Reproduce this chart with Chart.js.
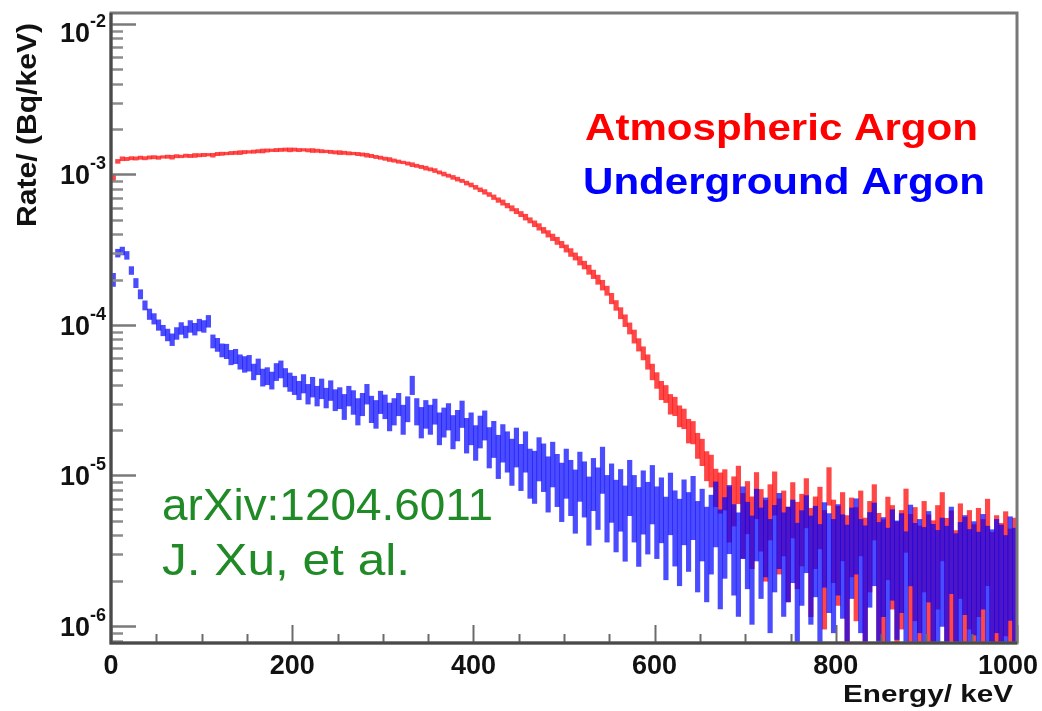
<!DOCTYPE html>
<html>
<head>
<meta charset="utf-8">
<script src="https://cdn.jsdelivr.net/npm/chart.js@4.4.1/dist/chart.umd.min.js"></script>
<style>
  html, body { margin: 0; padding: 0; background: #fff; }
  #wrap { width: 1042px; height: 711px; position: relative; }
</style>
</head>
<body>
<div id="wrap"><canvas id="chart"></canvas></div>
<script>
// Energy spectra, 5 keV bins (bin centres), rates in µBq/keV.
const RATE_UNIT = 1e-6;
const BIN_START = 2.5;
const BIN_WIDTH = 5;

// Atmospheric argon (red)
const atmRate = [
  950, 1220, 1270, 1265, 1280, 1275, 1290, 1280, 1295, 1300,
  1290, 1305, 1310, 1300, 1320, 1315, 1330, 1325, 1335, 1340,
  1345, 1350, 1340, 1365, 1370, 1375, 1385, 1390, 1395, 1405,
  1410, 1415, 1425, 1430, 1440, 1445, 1450, 1455, 1460, 1455,
  1460, 1450, 1455, 1445, 1440, 1435, 1425, 1420, 1410, 1400,
  1395, 1390, 1380, 1375, 1365, 1355, 1340, 1325, 1305, 1290,
  1270, 1255, 1235, 1215, 1200, 1180, 1160, 1140, 1120, 1100,
  1080, 1060, 1030, 1005, 980, 955, 930, 905, 875, 850,
  820, 790, 765, 735, 705, 675, 650, 620, 595, 570,
  545, 520, 495, 470, 448, 425, 403, 382, 362, 342,
  322, 303, 285, 267, 250, 233, 217, 200, 184, 169,
  150, 135, 120, 107, 95, 84, 74, 65, 57, 49,
  43, 37, 35, 30, 29, 25, 24, 20, 19.5, 16,
  14.5, 11.8, 11, 8.6, 8.0,
  8.4, 6.0, 7.2, 9.0, 5.2, 6.6, 4.8, 7.8, 5.6, 4.4,
  6.2, 8.0, 4.6, 5.4, 3.8, 6.4, 4.2, 5.0, 7.0, 3.6,
  4.8, 5.8, 3.4, 8.8, 4.4, 3.8, 5.2, 3.0, 4.6, 3.6,
  5.4, 2.8, 4.2, 6.2, 3.2, 2.6, 4.6, 3.8, 2.4, 3.4,
  5.6, 2.9, 3.6, 2.2, 4.2, 3.0, 2.5, 3.8, 5.2, 2.7,
  3.3, 2.0, 4.0, 2.8, 3.4, 2.3, 3.6, 2.6, 4.4, 1.9,
  3.0, 2.4, 3.3, 2.1, 2.8
];
// relative half-length of each error bar
const atmRelErr = [
  0.05, 0.03, 0.03, 0.025, 0.025, 0.025, 0.025, 0.025, 0.025, 0.025,
  0.025, 0.02, 0.025, 0.03, 0.025, 0.02, 0.025, 0.025, 0.03, 0.025,
  0.025, 0.02, 0.03, 0.025, 0.025, 0.02, 0.025, 0.025, 0.03, 0.025,
  0.02, 0.025, 0.025, 0.03, 0.025, 0.02, 0.025, 0.025, 0.025, 0.03,
  0.025, 0.025, 0.02, 0.025, 0.03, 0.025, 0.025, 0.02, 0.025, 0.025,
  0.03, 0.025, 0.025, 0.02, 0.025, 0.025, 0.03, 0.025, 0.025, 0.025,
  0.025, 0.03, 0.025, 0.025, 0.02, 0.025, 0.03, 0.025, 0.025, 0.03,
  0.025, 0.03, 0.025, 0.03, 0.025, 0.03, 0.03, 0.025, 0.03, 0.03,
  0.03, 0.03, 0.035, 0.03, 0.035, 0.035, 0.04, 0.035, 0.04, 0.04,
  0.04, 0.045, 0.04, 0.045, 0.05, 0.045, 0.05, 0.05, 0.055, 0.05,
  0.055, 0.06, 0.055, 0.065, 0.06, 0.07, 0.065, 0.07, 0.075, 0.07,
  0.08, 0.075, 0.085, 0.09, 0.085, 0.1, 0.095, 0.1, 0.11, 0.12,
  0.12, 0.14, 0.13, 0.15, 0.14, 0.16, 0.15, 0.18, 0.17, 0.19,
  0.2, 0.22, 0.24, 0.28, 0.3,
  0.3, 0.4, 0.36, 0.28, 0.46, 0.38, 0.5, 0.34, 0.44, 0.55,
  0.4, 0.32, 0.52, 0.46, 0.62, 0.4, 0.58, 0.5, 0.36, 0.68,
  0.5, 0.44, 0.72, 0.28, 0.56, 0.64, 0.48, 0.8, 0.54, 0.7,
  0.46, 0.86, 0.6, 0.4, 0.75, 0.95, 0.56, 0.66, 1.05, 0.72,
  0.45, 0.9, 0.7, 1.1, 0.6, 0.82, 1.0, 0.66, 0.48, 0.92,
  0.76, 1.15, 0.62, 0.88, 0.72, 1.05, 0.68, 0.96, 0.58, 1.2,
  0.8, 1.0, 0.74, 1.1, 0.86
];

// Underground argon (blue)
const ugRate = [
  200, 300, 310, 290, 230, 190, 160, 135, 118, 110,
  100, 92, 86, 80, 88, 95, 90, 98, 94, 100,
  98, 106, 78, 74, 68, 67, 61, 62, 57, 55,
  56, 49, 53, 45, 46, 43, 49, 51, 45, 42,
  40, 37, 41, 35, 39, 34, 38, 33, 37, 32,
  33, 29, 34, 31, 27, 30, 35, 28, 26, 31,
  29, 25, 27, 30, 24, 28, 40, 27, 23, 26,
  24, 27, 21, 23, 25, 20, 22, 26, 19, 21,
  17, 20, 22, 16, 18, 14, 17, 15, 13, 16,
  12, 15, 11, 10.5, 13.5, 12, 9.5, 12.5, 10, 8.5,
  11, 9, 7.5, 10.5, 8.8, 6.6, 9.4, 7.8, 11.5, 6.8,
  8.4, 6.2, 7.6, 5.6, 9.0, 6.8, 5.4, 7.4, 6.0, 8.2,
  5.6, 6.6, 4.6, 7.2, 5.2, 4.4, 6.4, 5.0, 6.8, 4.2,
  5.4, 3.8, 4.8, 6.2, 3.6, 4.6, 5.8, 4.0, 3.4, 5.6,
  4.2, 3.2, 5.4, 3.8, 4.6, 3.0, 4.0, 5.0, 3.4, 3.8,
  4.4, 2.8, 3.6, 4.8, 3.2, 3.9, 2.7, 4.2, 3.4, 3.0,
  4.0, 3.3, 2.6, 3.8, 4.6, 3.0, 2.5, 3.5, 4.2, 2.8,
  3.2, 2.4, 3.7, 2.9, 3.4, 2.2, 4.1, 2.7, 3.0, 2.4,
  3.6, 2.6, 2.2, 3.1, 2.5, 3.9, 2.0, 2.8, 3.3, 2.3,
  2.9, 2.1, 3.4, 2.5, 2.2, 3.0, 2.6, 1.9, 3.2, 2.4
];
const ugRelErr = [
  0.1, 0.06, 0.06, 0.06, 0.06, 0.07, 0.07, 0.07, 0.08, 0.08,
  0.08, 0.08, 0.09, 0.09, 0.09, 0.09, 0.09, 0.09, 0.09, 0.09,
  0.09, 0.09, 0.1, 0.1, 0.1, 0.11, 0.11, 0.11, 0.11, 0.12,
  0.12, 0.12, 0.12, 0.13, 0.13, 0.13, 0.13, 0.13, 0.14, 0.14,
  0.14, 0.14, 0.14, 0.15, 0.15, 0.15, 0.15, 0.15, 0.15, 0.16,
  0.16, 0.19, 0.15, 0.18, 0.2, 0.17, 0.15, 0.2, 0.21, 0.17,
  0.18, 0.21, 0.2, 0.17, 0.22, 0.19, 0.14, 0.2, 0.23, 0.21,
  0.22, 0.19, 0.24, 0.22, 0.2, 0.25, 0.23, 0.2, 0.26, 0.24,
  0.26, 0.24, 0.22, 0.3, 0.27, 0.32, 0.28, 0.3, 0.34, 0.29,
  0.34, 0.3, 0.36, 0.38, 0.32, 0.35, 0.4, 0.33, 0.38, 0.42,
  0.36, 0.4, 0.45, 0.36, 0.4, 0.48, 0.38, 0.44, 0.34, 0.47,
  0.42, 0.5, 0.44, 0.52, 0.4, 0.47, 0.54, 0.45, 0.5, 0.42,
  0.5, 0.46, 0.56, 0.44, 0.52, 0.58, 0.46, 0.54, 0.45, 0.6,
  0.5, 0.62, 0.54, 0.46, 0.64, 0.55, 0.48, 0.6, 0.66, 0.5,
  0.58, 0.68, 0.5, 0.6, 0.54, 0.7, 0.58, 0.52, 0.66, 0.62,
  0.56, 0.72, 0.62, 0.53, 0.68, 0.6, 0.75, 0.57, 0.64, 0.7,
  0.6, 0.66, 0.8, 0.6, 0.52, 0.7, 0.85, 0.62, 0.56, 0.74,
  0.64, 0.86, 0.6, 0.72, 0.64, 0.92, 0.55, 0.78, 0.7, 0.88,
  0.6, 0.82, 0.96, 0.68, 0.84, 0.58, 1.05, 0.74, 0.64, 0.9,
  0.7, 1.0, 0.62, 0.84, 0.98, 0.7, 0.8, 1.1, 0.66, 0.86
];

const xTickLabels = [0, 200, 400, 600, 800, 1000];
const yTickExponents = [-6, -5, -4, -3, -2];
const Y_MIN = 7.7e-7;
const Y_MAX = 1.18e-2;

const FONT = '"Liberation Sans", Arial, Helvetica, sans-serif';

function toBars(rates, relErr) {
  return rates.map((r, i) => {
    const v = r * RATE_UNIT;
    const e = v * relErr[i];
    return { x: BIN_START + i * BIN_WIDTH, y: [Math.max(v - e, Y_MIN), v + e] };
  });
}

// draw text squeezed/stretched horizontally to a given width
function fitText(ctx, text, x, y, font, width, color, align) {
  ctx.save();
  ctx.font = font;
  ctx.fillStyle = color;
  ctx.textAlign = 'left';
  ctx.textBaseline = 'alphabetic';
  const w = ctx.measureText(text).width;
  const sx = width ? width / w : 1;
  let left = x;
  if (align === 'right') left = x - w * sx;
  else if (align === 'center') left = x - w * sx / 2;
  ctx.translate(left, y);
  ctx.scale(sx, 1);
  ctx.fillText(text, 0, 0);
  ctx.restore();
}

// ROOT style frame: ticks inside, 10^n labels, titles and legend text
const rootFrame = {
  id: 'rootFrame',
  afterDatasetsDraw(chart) {
    const { ctx, chartArea: a, scales: { x, y } } = chart;
    ctx.save();
    ctx.lineCap = 'butt';

    // x ticks
    ctx.strokeStyle = '#6b6b6b';
    ctx.lineWidth = 2;
    for (let e = 0; e <= 1000; e += 50) {
      const px = Math.round(x.getPixelForValue(e)) + 0.5;
      const len = e % 200 === 0 ? 18 : 9;
      ctx.beginPath();
      ctx.moveTo(px, a.bottom);
      ctx.lineTo(px, a.bottom - len);
      ctx.stroke();
    }

    // y ticks (log)
    for (let d = -7; d <= -2; d++) {
      for (let k = 1; k <= 9; k++) {
        const v = k * Math.pow(10, d);
        if (v < y.min || v > y.max) continue;
        const py = Math.round(y.getPixelForValue(v)) + 0.5;
        ctx.strokeStyle = k === 1 ? '#7a7a7a' : '#8c8c8c';
        ctx.lineWidth = 2.5;
        ctx.beginPath();
        ctx.moveTo(a.left, py);
        ctx.lineTo(a.left + (k === 1 ? 25 : 12), py);
        ctx.stroke();
      }
    }

    // frame
    ctx.strokeStyle = '#777';
    ctx.lineWidth = 3;
    ctx.strokeRect(a.left, a.top, a.right - a.left, a.bottom - a.top);
    ctx.strokeStyle = '#4a4a4a';
    ctx.beginPath();
    ctx.moveTo(a.left, a.top);
    ctx.lineTo(a.left, a.bottom);
    ctx.lineTo(a.right, a.bottom);
    ctx.stroke();
    ctx.restore();

    // x tick labels
    ctx.save();
    ctx.font = 'bold 27px ' + FONT;
    ctx.fillStyle = '#111';
    ctx.textBaseline = 'alphabetic';
    xTickLabels.forEach(v => {
      const t = String(v);
      const w = ctx.measureText(t).width;
      let cx = x.getPixelForValue(v);
      if (cx + w / 2 > 1038) cx = 1038 - w / 2;
      ctx.textAlign = 'center';
      ctx.fillText(t, cx, 674);
    });

    // y tick labels as 10^n
    yTickExponents.forEach(n => {
      const py = y.getPixelForValue(Math.pow(10, n));
      const base = Math.max(py + 10, 42);
      ctx.font = 'bold 27px ' + FONT;
      ctx.textAlign = 'right';
      ctx.fillText('10', 90, base);
      ctx.font = 'bold 18px ' + FONT;
      ctx.textAlign = 'left';
      ctx.fillText(String(n), 90, base - 15);
    });
    ctx.restore();

    // axis titles
    fitText(ctx, 'Energy/ keV', 1013, 702, 'bold 24px ' + FONT, 170, '#111', 'right');
    ctx.save();
    ctx.translate(36, 227);
    ctx.rotate(-Math.PI / 2);
    fitText(ctx, 'Rate/ (Bq/keV)', 0, 0, 'bold 28px ' + FONT, 204, '#111', 'left');
    ctx.restore();

    // legend and annotation
    fitText(ctx, 'Atmospheric Argon', 585, 140, 'bold 37px ' + FONT, 393, '#ff0000', 'left');
    fitText(ctx, 'Underground Argon', 583, 194, 'bold 36px ' + FONT, 402, '#0000ff', 'left');
    fitText(ctx, 'arXiv:1204.6011', 162, 520, '44px ' + FONT, 331, '#1f8a26', 'left');
    fitText(ctx, 'J. Xu, et al.', 162, 575, '44px ' + FONT, 248, '#1f8a26', 'left');
  }
};

new Chart(document.getElementById('chart'), {
  type: 'bar',
  data: {
    datasets: [
      {
        label: 'Underground Argon',
        data: toBars(ugRate, ugRelErr),
        backgroundColor: 'rgba(0, 0, 255, 0.7)',
        borderWidth: 0,
        grouped: false,
        barPercentage: 1,
        categoryPercentage: 1
      },
      {
        label: 'Atmospheric Argon',
        data: toBars(atmRate, atmRelErr),
        backgroundColor: 'rgba(255, 0, 0, 0.72)',
        borderWidth: 0,
        grouped: false,
        barPercentage: 1,
        categoryPercentage: 1
      }
    ]
  },
  options: {
    responsive: true,
    maintainAspectRatio: false,
    animation: false,
    layout: { padding: { left: 111, right: 25, top: 13, bottom: 68 } },
    plugins: { legend: { display: false }, tooltip: { enabled: false } },
    scales: {
      x: { type: 'linear', min: 0, max: 1000, offset: false, display: false },
      y: { type: 'logarithmic', min: Y_MIN, max: Y_MAX, display: false }
    }
  },
  plugins: [rootFrame]
});
</script>
</body>
</html>
